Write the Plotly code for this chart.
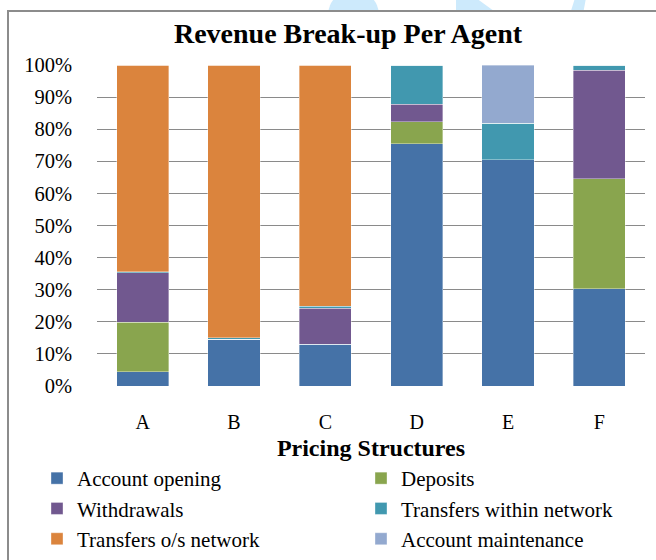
import plotly.graph_objects as go

categories = ["A", "B", "C", "D", "E", "F"]
account_opening = [4.4, 14.5, 13.0, 75.4, 70.5, 30.3]
deposits = [15.5, 0, 0, 7.0, 0, 34.3]
withdrawals = [15.4, 0, 11.3, 5.3, 0, 33.7]
transfers_within = [0.3, 0.5, 0.5, 12.3, 11.4, 1.7]
transfers_os = [64.4, 85.0, 75.2, 0, 0, 0]
account_maintenance = [0, 0, 0, 0, 18.1, 0]
y_ticks = list(range(0, 101, 10))

series = [
    ("Account opening", account_opening, "#4572A7", "legend"),
    ("Deposits", deposits, "#89A54E", "legend2"),
    ("Withdrawals", withdrawals, "#71588F", "legend"),
    ("Transfers within network", transfers_within, "#4198AF", "legend2"),
    ("Transfers o/s network", transfers_os, "#DB843D", "legend"),
    ("Account maintenance", account_maintenance, "#93A9CF", "legend2"),
]

W, H = 656, 560
L, R, T, B = 97, 11, 65, 174
PW, PH = W - L - R, H - T - B


def px(x):
    return (x - L) / PW


def py(y):
    return 1 - (y - T) / PH


fig = go.Figure()
for name, vals, col, lg in series:
    fig.add_trace(go.Bar(
        x=categories, y=vals, name=name, legend=lg, legendgroup=name,
        marker=dict(color=col, line=dict(color="rgba(255,255,255,0.45)", width=0.8)),
    ))

serif = "Liberation Serif, Times New Roman, serif"

shapes = [
    dict(type="circle", xref="paper", yref="paper", x0=px(328), x1=px(379), y0=py(40), y1=py(-10),
         fillcolor="#cdeafc", line=dict(width=0), layer="below"),
    dict(type="path", xref="paper", yref="paper",
         path=f"M {px(456)},{py(-2)} L {px(476)},{py(-2)} L {px(498)},{py(14)} L {px(456)},{py(14)} Z",
         fillcolor="#cdeafc", line=dict(width=0), layer="below"),
    dict(type="path", xref="paper", yref="paper",
         path=f"M {px(575)},{py(-2)} L {px(586)},{py(-2)} L {px(583)},{py(14)} L {px(570)},{py(14)} Z",
         fillcolor="#cdeafc", line=dict(width=0), layer="below"),
    dict(type="rect", xref="paper", yref="paper", x0=px(8), x1=px(670), y0=py(575), y1=py(11),
         fillcolor="white", line=dict(color="#8c8c8c", width=2), layer="below"),
]

legend_common = dict(orientation="v", yanchor="top", traceorder="normal",
                     font=dict(size=21, family=serif), bgcolor="rgba(0,0,0,0)",
                     tracegroupgap=4, itemclick=False, borderwidth=0)

fig.update_layout(
    width=W, height=H,
    margin=dict(l=L, r=R, t=T, b=B, pad=0, autoexpand=False),
    barmode="stack",
    bargap=0.43,
    paper_bgcolor="white",
    plot_bgcolor="rgba(0,0,0,0)",
    font=dict(family=serif, color="black", size=20),
    title=dict(text="<b>Revenue Break-up Per Agent</b>", xref="container", x=348 / W,
               xanchor="center", yref="container", y=1 - 33 / H, yanchor="middle",
               font=dict(size=28, family=serif)),
    shapes=shapes,
    showlegend=True,
    legend=dict(x=px(37), xanchor="left", y=py(458), **legend_common),
    legend2=dict(x=px(361), xanchor="left", y=py(458), **legend_common),
)
fig.update_xaxes(
    showgrid=False, showline=False, zeroline=False, ticks="",
    ticklabelstandoff=22, tickfont=dict(size=20),
    title=dict(text="<b>Pricing Structures</b>", font=dict(size=24), standoff=7),
)
fig.update_yaxes(
    range=[0, 100], tickvals=y_ticks, ticktext=[f"{v}%" for v in y_ticks],
    showgrid=True, gridcolor="#8a8a8a", gridwidth=1.3, zeroline=False,
    showline=False, ticks="", ticklabelstandoff=24, tickfont=dict(size=20.5),
)

fig.write_html("out.html", config={"displayModeBar": False},
               post_script="document.body.style.margin='0';document.body.style.overflow='hidden';")
